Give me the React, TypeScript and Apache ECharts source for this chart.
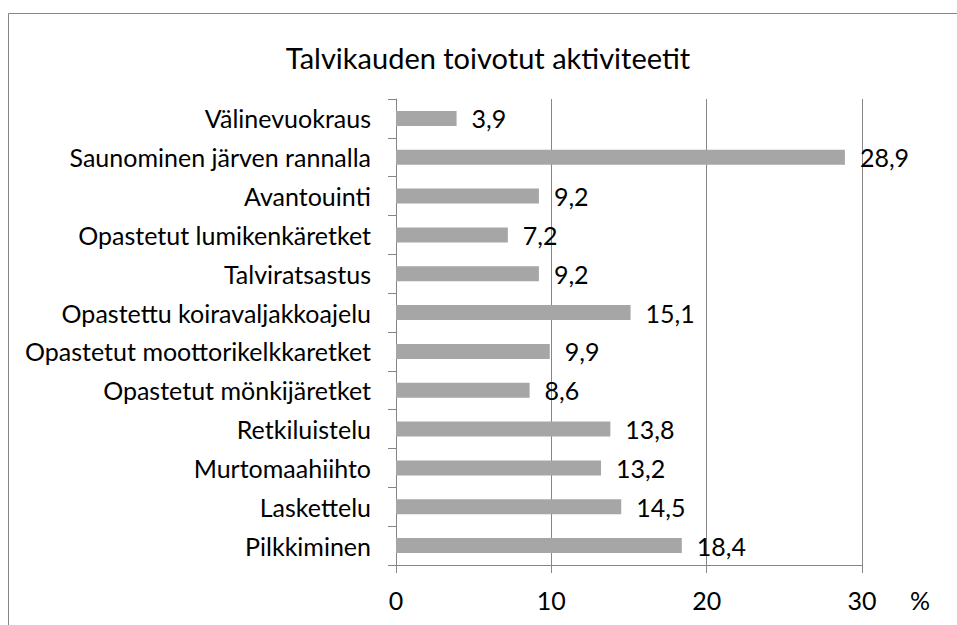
import React, { useEffect, useRef } from "react";
import * as echarts from "echarts";

const categories = [
  "Välinevuokraus",
  "Saunominen järven rannalla",
  "Avantouinti",
  "Opastetut lumikenkäretket",
  "Talviratsastus",
  "Opastettu koiravaljakkoajelu",
  "Opastetut moottorikelkkaretket",
  "Opastetut mönkijäretket",
  "Retkiluistelu",
  "Murtomaahiihto",
  "Laskettelu",
  "Pilkkiminen",
];
const values = [3.9, 28.9, 9.2, 7.2, 9.2, 15.1, 9.9, 8.6, 13.8, 13.2, 14.5, 18.4];
const titleText = "Talvikauden toivotut aktiviteetit";
const unitText = "%";

const FONT = "Lato, 'Open Sans', sans-serif";
const GRAY = "#868686";
const FS = 25;

export default function App() {
  const ref = useRef<HTMLDivElement>(null);
  useEffect(() => {
    if (!ref.current) return;
    const chart = echarts.init(ref.current, undefined, { renderer: "svg" });
    chart.setOption({
      animation: false,
      backgroundColor: "#ffffff",
      textStyle: { fontFamily: FONT },
      grid: { left: 396, right: 95, top: 99, bottom: 60, containLabel: false },
      graphic: [
        {
          type: "rect",
          z: -10,
          shape: { x: 8.5, y: 13.5, width: 1000, height: 700 },
          style: { fill: "none", stroke: GRAY, lineWidth: 1 },
        },
        {
          type: "text",
          x: 488,
          y: 57,
          style: {
            text: titleText,
            fontFamily: FONT,
            fontSize: 29,
            fill: "#000",
            textAlign: "center",
            textVerticalAlign: "middle",
          },
        },
        {
          type: "text",
          x: 920,
          y: 600,
          style: {
            text: unitText,
            fontFamily: FONT,
            fontSize: FS,
            fill: "#000",
            textAlign: "center",
            textVerticalAlign: "middle",
          },
        },
      ],
      xAxis: {
        type: "value",
        min: 0,
        max: 30,
        interval: 10,
        axisLine: { show: true, lineStyle: { color: GRAY, width: 1 } },
        axisTick: { show: true, length: 8, lineStyle: { color: GRAY } },
        splitLine: { show: true, lineStyle: { color: GRAY, width: 1 } },
        axisLabel: { color: "#000", fontSize: FS, fontFamily: FONT, margin: 22 },
      },
      yAxis: {
        type: "category",
        data: categories,
        inverse: true,
        axisLine: { show: true, lineStyle: { color: GRAY, width: 1 } },
        axisTick: { show: true, length: 8, lineStyle: { color: GRAY } },
        axisLabel: { color: "#000", fontSize: FS, fontFamily: FONT, margin: 25 },
      },
      series: [
        {
          type: "bar",
          data: values,
          barWidth: 15,
          itemStyle: { color: "#a6a6a6" },
          label: {
            show: true,
            position: "right",
            distance: 15,
            color: "#000",
            fontSize: FS,
            fontFamily: FONT,
            formatter: (p: any) => String(p.value).replace(".", ","),
          },
        },
      ],
    });
    return () => chart.dispose();
  }, []);
  return (
    <div
      ref={ref}
      style={{ position: "absolute", left: 0, top: 0, width: 957, height: 625 }}
    />
  );
}
